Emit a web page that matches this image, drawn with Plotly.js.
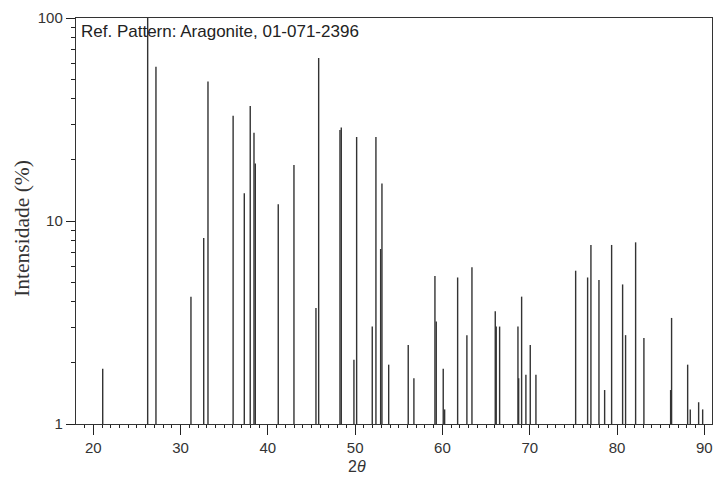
<!DOCTYPE html>
<html>
<head>
<meta charset="utf-8">
<script src="https://cdn.plot.ly/plotly-3.0.1.min.js"></script>
<style>html,body{margin:0;padding:0;background:#fff;}#chart{width:714px;height:483px;}</style>
</head>
<body>
<div id="chart"></div>
<script>
// Peak positions (2θ, degrees) and relative intensities (%)
const twoTheta = [21.08, 26.23, 27.18, 31.19, 32.65, 33.14, 36.02, 37.30, 37.98, 38.41, 38.56,
  41.19, 42.99, 45.51, 45.82, 48.26, 48.41, 49.86, 50.17, 51.96, 52.38, 52.92, 53.07, 53.84,
  56.08, 56.73, 59.14, 59.29, 60.09, 60.25, 61.74, 62.80, 63.38, 66.05, 66.16, 66.55,
  68.65, 68.73, 69.07, 69.56, 70.06, 70.71, 75.26, 76.63, 77.01, 77.93, 78.58, 79.38,
  80.64, 80.98, 82.13, 83.08, 86.14, 86.25, 88.09, 88.39, 89.35, 89.81];
const intensity = [1.87, 100, 57.5, 4.24, 8.25, 48.6, 33.0, 13.7, 36.9, 27.2, 19.2,
  12.1, 18.9, 3.73, 63.5, 28.1, 28.9, 2.07, 25.9, 3.02, 25.9, 7.28, 15.3, 1.96,
  2.45, 1.68, 5.36, 3.20, 1.87, 1.18, 5.27, 2.74, 5.91, 3.59, 3.02, 3.02,
  3.02, 1.68, 4.24, 1.75, 2.45, 1.75, 5.69, 5.27, 7.62, 5.12, 1.47, 7.62,
  4.87, 2.74, 7.85, 2.65, 1.47, 3.33, 1.96, 1.18, 1.28, 1.18];
const yTickVals = [1, 10, 100];
const yTickText = ['1', '10', '100'];
const yMinorVals = [2, 3, 4, 5, 6, 7, 8, 9, 20, 30, 40, 50, 60, 70, 80, 90];
const patternLabel = 'Ref. Pattern: Aragonite, 01-071-2396';
const xTitle = '2<i>θ</i>';
const yTitle = 'Intensidade (%)';

const xs = [], ys = [];
twoTheta.forEach((t, i) => { xs.push(t, t, null); ys.push(1, intensity[i], null); });

const trace = {
  x: xs, y: ys, type: 'scatter', mode: 'lines',
  line: {color: '#333333', width: 1.4},
  hoverinfo: 'skip', showlegend: false
};

const layout = {
  width: 714, height: 483,
  margin: {l: 76, r: 2, t: 18, b: 59},
  paper_bgcolor: '#ffffff', plot_bgcolor: '#ffffff',
  font: {family: 'Liberation Sans, Arial, sans-serif', color: '#222', size: 15},
  xaxis: {
    range: [18.02, 90.88], showgrid: false, zeroline: false,
    showline: true, mirror: true, linecolor: '#333', linewidth: 1.2,
    tickmode: 'linear', tick0: 20, dtick: 10,
    ticks: 'outside', ticklen: 10, tickwidth: 1, tickcolor: '#222',
    minor: {dtick: 1, tick0: 0, ticks: 'outside', ticklen: 3, tickwidth: 1, tickcolor: '#222', showgrid: false},
    tickfont: {size: 15, color: '#333'}
  },
  yaxis: {
    type: 'log', range: [0, 2], showgrid: false, zeroline: false,
    showline: true, mirror: true, linecolor: '#333', linewidth: 1.2,
    tickmode: 'array', tickvals: yTickVals, ticktext: yTickText,
    ticks: 'outside', ticklen: 9, tickwidth: 1, tickcolor: '#222',
    minor: {tickmode: 'array', tickvals: yMinorVals, ticks: 'outside', ticklen: 4, tickwidth: 1, tickcolor: '#222', showgrid: false},
    tickfont: {size: 15, color: '#333'}
  },
  annotations: [{
    text: patternLabel, xref: 'paper', yref: 'paper', x: 0.004, y: 0.995,
    xanchor: 'left', yanchor: 'top', showarrow: false,
    font: {family: 'Liberation Sans, Arial, sans-serif', size: 17, color: '#222'}
  }, {
    text: yTitle, xref: 'paper', yref: 'paper', x: -0.085, y: 0.483,
    xanchor: 'center', yanchor: 'middle', textangle: -90, showarrow: false,
    font: {family: 'Liberation Serif, Times New Roman, serif', size: 21.5, color: '#333'}
  }, {
    text: xTitle, xref: 'paper', yref: 'paper', x: 0.442, y: -0.104,
    xanchor: 'center', yanchor: 'middle', showarrow: false,
    font: {family: 'Liberation Sans, Arial, sans-serif', size: 16, color: '#333'}
  }]
};

Plotly.newPlot('chart', [trace], layout, {displayModeBar: false, staticPlot: true});
</script>
</body>
</html>
